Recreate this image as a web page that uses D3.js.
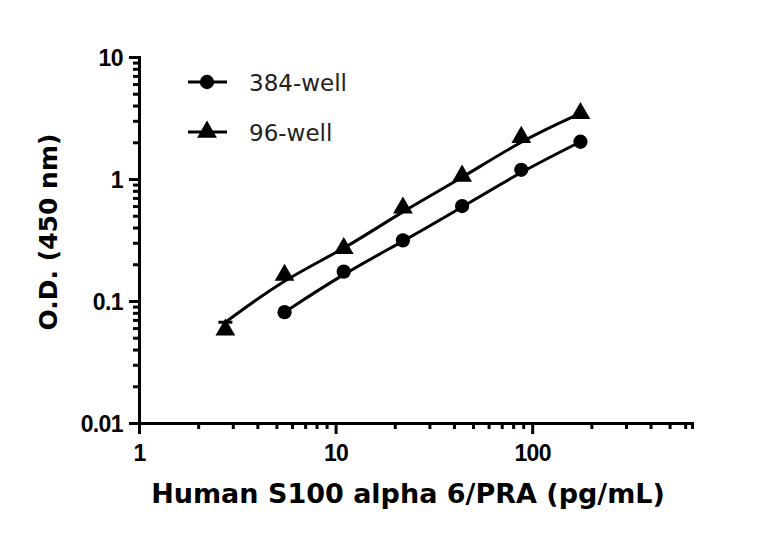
<!DOCTYPE html>
<html>
<head>
<meta charset="utf-8">
<title>S100 alpha 6 standard curve</title>
<script src="https://d3js.org/d3.v7.min.js"></script>
<style>
  body { margin: 0; background: #fff; }
  .axis path, .axis line { stroke: #000; stroke-width: 3px; }
  .titulo { font-family: "DejaVu Sans", sans-serif; font-weight: bold; fill: #000; }
  .legenda text { font-family: "DejaVu Sans", sans-serif; font-size: 23px; fill: #222; }
</style>
</head>
<body>
<div id="chart"></div>
<script>
"use strict";
// dados (pg/mL e O.D.)
var conc384 = [5.5, 11, 22, 44, 88, 176];
var od384 = [0.081, 0.174, 0.314, 0.60, 1.19, 2.02];
var conc96 = [2.75, 5.5, 11, 22, 44, 88, 176];
var od96 = [0.058, 0.163, 0.27, 0.58, 1.06, 2.2, 3.45];
var erro96 = [0.009, 0, 0, 0, 0, 0, 0];
var series = ["384-well", "96-well"];
var xTicks = [1, 10, 100];
var xTickLabels = ["1", "10", "100"];
var yTicks = [0.01, 0.1, 1, 10];
var yTickLabels = ["0.01", "0.1", "1", "10"];

var larguraSVG = 768, alturaSVG = 536;
var margin = {top: 57, right: 76, bottom: 113, left: 139},
    larguraVis = larguraSVG - margin.left - margin.right,
    alturaVis = alturaSVG - margin.top - margin.bottom;

var svg = d3.select("#chart").append("svg")
  .attr("width", larguraSVG).attr("height", alturaSVG);
var grafico = svg.append("g")
  .attr("transform", "translate(" + margin.left + "," + margin.top + ")");

var x = d3.scaleLog().domain([1, 650]).range([0, larguraVis]);
var y = d3.scaleLog().domain([0.01, 10]).range([alturaVis, 0]);

// ticks menores (2..9 de cada decada)
var xMinor = [], yMinor = [];
[1, 10, 100].forEach(function(d) {
  for (var k = 2; k <= 9; k++) if (d * k <= 650) xMinor.push(d * k);
});
[0.01, 0.1, 1].forEach(function(d) {
  for (var k = 2; k <= 9; k++) yMinor.push(+(d * k).toPrecision(3));
});

function estiloTick(sel) {
  sel.attr("font-family", "'Liberation Sans', Arial, sans-serif")
     .attr("font-size", 23).attr("font-weight", "bold")
     .attr("letter-spacing", "-0.6px").attr("fill", "#000");
}

grafico.append("g").attr("class", "axis")
  .attr("transform", "translate(0," + alturaVis + ")")
  .call(d3.axisBottom(x).tickValues(xMinor).tickSize(6).tickFormat(""));
grafico.append("g").attr("class", "axis")
  .attr("transform", "translate(0," + alturaVis + ")")
  .call(d3.axisBottom(x).tickValues(xTicks).tickSize(11).tickSizeOuter(0)
    .tickFormat(function(d, i) { return xTickLabels[i]; }))
  .call(g => g.selectAll("text").attr("y", 22).attr("dy", "0.71em").call(estiloTick));

grafico.append("g").attr("class", "axis")
  .call(d3.axisLeft(y).tickValues(yMinor).tickSize(6).tickFormat(""));
grafico.append("g").attr("class", "axis")
  .call(d3.axisLeft(y).tickValues(yTicks).tickSize(10).tickSizeOuter(0)
    .tickFormat(function(d, i) { return yTickLabels[i]; }))
  .call(g => g.selectAll("text").attr("x", -16).attr("dy", "0.36em").call(estiloTick));

// curvas
var linha = d3.line().x(d => x(d[0])).y(d => y(d[1])).curve(d3.curveBundle.beta(0.7));
var d384 = conc384.map((c, i) => [c, od384[i]]);
var d96 = conc96.map((c, i) => [c, od96[i]]);

grafico.append("path").datum(d384).attr("d", linha)
  .attr("fill", "none").attr("stroke", "#000").attr("stroke-width", 3);
grafico.append("path").datum(d96.map((d, i) => [d[0], d[1] + erro96[i]])).attr("d", linha)
  .attr("fill", "none").attr("stroke", "#000").attr("stroke-width", 3);

// barras de erro
d96.forEach(function(d, i) {
  if (!erro96[i]) return;
  var ytop = y(d[1] + erro96[i]);
  grafico.append("line").attr("x1", x(d[0])).attr("x2", x(d[0]))
    .attr("y1", y(d[1])).attr("y2", ytop).attr("stroke", "#000").attr("stroke-width", 3);
  grafico.append("line").attr("x1", x(d[0]) - 7).attr("x2", x(d[0]) + 7)
    .attr("y1", ytop).attr("y2", ytop).attr("stroke", "#000").attr("stroke-width", 3);
});

var circulo = d3.symbol().type(d3.symbolCircle).size(160);
var triangulo = d3.symbol().type(d3.symbolTriangle).size(170);

grafico.selectAll(".p384").data(d384).enter().append("path")
  .attr("class", "p384").attr("d", circulo)
  .attr("transform", d => "translate(" + x(d[0]) + "," + y(d[1]) + ")");
grafico.selectAll(".p96").data(d96).enter().append("path")
  .attr("class", "p96").attr("d", triangulo)
  .attr("transform", d => "translate(" + x(d[0]) + "," + y(d[1]) + ")");

// legenda
var legenda = svg.append("g").attr("class", "legenda");
[circulo, triangulo].forEach(function(sym, i) {
  var ly = 82 + i * 50;
  legenda.append("line").attr("x1", 188).attr("x2", 227).attr("y1", ly).attr("y2", ly)
    .attr("stroke", "#000").attr("stroke-width", 3);
  legenda.append("path").attr("d", sym).attr("transform", "translate(207," + ly + ")");
  legenda.append("text").attr("x", 249).attr("y", ly + 9).text(series[i]);
});

// titulos dos eixos
svg.append("text").attr("class", "titulo")
  .attr("x", 408).attr("y", 503).attr("text-anchor", "middle")
  .style("font-size", "27px")
  .text("Human S100 alpha 6/PRA (pg/mL)");
svg.append("text").attr("class", "titulo")
  .attr("transform", "translate(57,232) rotate(-90)")
  .attr("text-anchor", "middle")
  .style("font-size", "25px")
  .text("O.D. (450 nm)");
</script>
</body>
</html>
